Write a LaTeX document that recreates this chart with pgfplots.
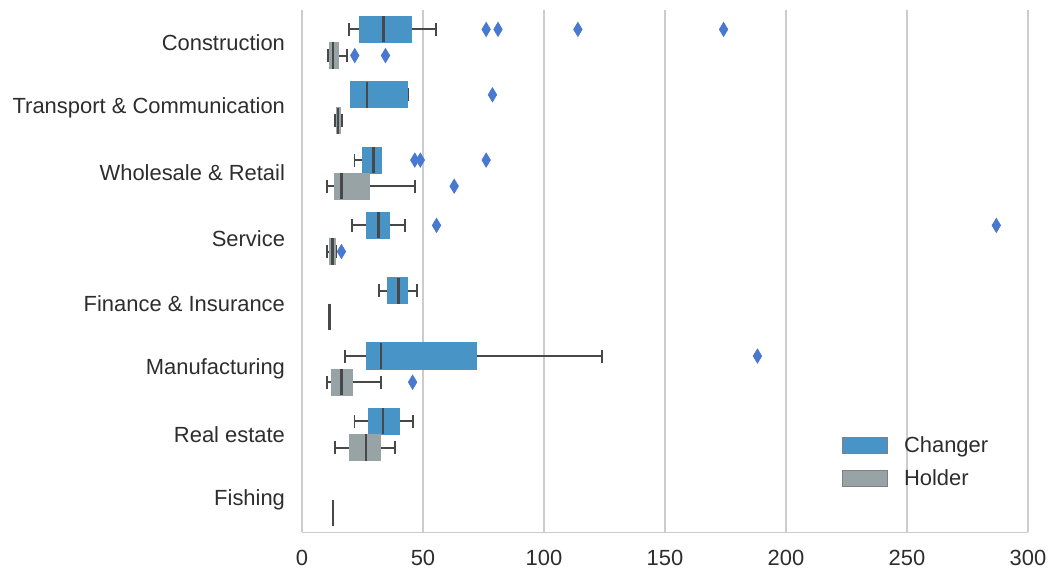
\documentclass[border=0pt]{standalone}
\usepackage{fontspec}
\setmainfont{Liberation Sans}
\usepackage{pgfplots}
\pgfplotsset{compat=1.18}
\usepgfplotslibrary{statistics}
\definecolor{changer}{RGB}{73,148,198}
\definecolor{holder}{RGB}{151,163,164}
\definecolor{medgray}{RGB}{72,72,72}
\definecolor{gridgray}{RGB}{204,204,204}
\definecolor{outl}{RGB}{72,120,207}
\definecolor{txt}{RGB}{45,45,45}
\newcommand{\bp}[7]{%
  \addplot[forget plot, draw=medgray, line width=1pt,
    boxplot/draw direction=x,
    boxplot/box extend=0.4, boxplot/whisker extend=0.2,
    boxplot/every box/.style={fill=#1, draw=#1, line width=0.5pt},
    boxplot/every whisker/.style={draw=medgray, line width=1pt},
    boxplot/every median/.style={draw=medgray, line width=1.25pt},
    boxplot prepared={draw position=#2, lower whisker=#3, lower quartile=#4,
      median=#5, upper quartile=#6, upper whisker=#7}] coordinates {};}
\begin{document}
\begin{tikzpicture}
\begin{axis}[
  scale only axis, width=364pt, height=262pt,
  xmin=0, xmax=300, ymin=-0.5, ymax=7.5, y dir=reverse,
  xtick={0,50,...,300}, ytick={0,...,7},
  yticklabels={Construction, Transport \& Communication, Wholesale \& Retail, Service, Finance \& Insurance, Manufacturing, Real estate, Fishing},
  /pgf/number format/assume math mode=true,
  major tick length=0pt,
  tick label style={font=\fontsize{11}{13}\selectfont, text=txt},
  yticklabel style={xshift=-5pt},
  xticklabel style={yshift=-5.5pt},
  xmajorgrids, ymajorgrids=false,
  grid style={draw=gridgray, line width=0.85pt},
  axis x line*=bottom, axis y line*=left,
  axis line style={draw=gridgray, line width=0.85pt, -},
  legend style={at={(0.735,0.2)}, anchor=north west, draw=none, fill=none,
    font=\fontsize{11}{13}\selectfont, text=txt, row sep=3pt},
  legend cell align=left,
  legend image code/.code={\draw[#1] (0pt,-4pt) rectangle (22.5pt,4pt); \path (28.5pt,0pt);},
]
% Construction
\bp{changer}{-0.2}{19.5}{23.6}{33.7}{45.2}{55.5}
\bp{holder}{0.2}{10.6}{11.3}{12.9}{15.1}{18.5}
% Transport & Communication
\bp{changer}{0.8}{20.2}{20.2}{26.9}{43.8}{43.8}
\bp{holder}{1.2}{13.7}{14.2}{14.8}{15.8}{16.4}
% Wholesale & Retail
\bp{changer}{1.8}{21.7}{25.1}{29.5}{32.9}{32.4}
\bp{holder}{2.2}{10.3}{13.3}{16.3}{28.0}{46.7}
% Service
\bp{changer}{2.8}{20.5}{26.5}{31.7}{36.3}{42.6}
\bp{holder}{3.2}{10.3}{11.5}{12.6}{13.7}{14.1}
% Finance & Insurance
\bp{changer}{3.8}{31.7}{35.4}{39.8}{43.8}{47.5}
\bp{holder}{4.2}{11.4}{11.4}{11.4}{11.4}{11.4}
% Manufacturing
\bp{changer}{4.8}{17.7}{26.5}{32.7}{72.1}{124.0}
\bp{holder}{5.2}{10.3}{12.4}{16.3}{20.7}{32.5}
% Real estate
\bp{changer}{5.8}{21.7}{27.3}{33.5}{40.2}{45.9}
\bp{holder}{6.2}{13.6}{19.6}{26.4}{32.5}{38.4}
% Fishing
\bp{holder}{7.2}{12.8}{12.8}{12.8}{12.8}{12.8}
% Outliers
\addplot[forget plot, only marks, mark=diamond*, mark size=3.5pt, color=outl,
  mark options={xscale=0.8}] coordinates {
  (76.1,-0.2) (81.0,-0.2) (114.0,-0.2) (174.2,-0.2)
  (21.8,0.2) (34.5,0.2)
  (78.7,0.8)
  (46.6,1.8) (48.9,1.8) (76.1,1.8)
  (62.9,2.2)
  (55.6,2.8) (286.9,2.8)
  (16.3,3.2)
  (188.2,4.8)
  (45.7,5.2)
};
\addlegendimage{fill=changer, draw=gray, line width=0.6pt}
\addlegendentry{Changer}
\addlegendimage{fill=holder, draw=gray, line width=0.6pt}
\addlegendentry{Holder}
\end{axis}
\path (current bounding box.north west) ++(-3pt,4.5pt) coordinate (pad);
\end{tikzpicture}
\end{document}
